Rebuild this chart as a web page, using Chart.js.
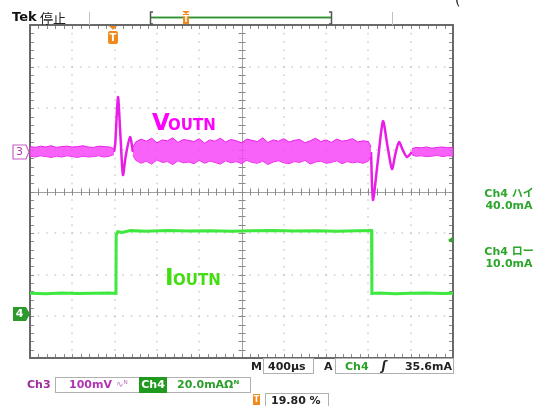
<!DOCTYPE html>
<html><head><meta charset="utf-8">
<script src="https://cdn.jsdelivr.net/npm/chart.js@4/dist/chart.umd.min.js"></script>
<style>html,body{margin:0;padding:0;background:#fff;}#wrap{position:relative;width:546px;height:406px;}</style>
</head><body><div id="wrap"><canvas id="c" width="546" height="406"></canvas></div>
<script>
// ---- time base (µs), 400 µs/div, 10 divisions ----
const timeMin = 0, timeMax = 4000;
// ---- Ch3 (VOUTN, mV) noise envelope, segment before the load step ----
const ch3TimeA = [0,50,100,150,200,250,300,350,400,450,500,550,600,650,700,750,794];
const ch3UpperA = [13,11,14,12,15,11,13,14,12,13,15,12,11,14,13,12,8];
const ch3LowerA = [-10,-12,-9,-11,-13,-10,-12,-9,-11,-13,-10,-12,-11,-9,-12,-10,-6];
// ---- Ch3 envelope during the high-load interval ----
const ch3TimeB = [974,1000,1050,1100,1150,1200,1250,1300,1350,1400,1450,1500,1550,1600,1650,1700,1750,1800,1850,1900,1950,2000,2050,2100,2150,2200,2250,2300,2350,2400,2450,2500,2550,2600,2650,2700,2750,2800,2850,2900,2950,3000,3050,3100,3150,3200,3225];
const ch3UpperB = [12,24,31,26,33,22,29,27,34,23,30,28,25,32,21,29,26,33,24,30,27,22,31,28,25,34,23,29,26,32,24,28,30,22,27,33,25,29,23,31,26,28,32,24,27,25,12];
const ch3LowerB = [-8,-20,-27,-22,-29,-19,-25,-23,-30,-21,-26,-24,-28,-20,-27,-22,-25,-29,-21,-26,-23,-28,-20,-25,-27,-22,-30,-24,-21,-26,-28,-23,-25,-20,-29,-24,-22,-27,-25,-21,-28,-23,-26,-24,-27,-22,-8];
// ---- Ch3 envelope after the load release ----
const ch3TimeC = [3612,3650,3700,3750,3800,3850,3900,3950,4000];
const ch3UpperC = [8,11,10,12,9,11,12,10,11];
const ch3LowerC = [-7,-10,-9,-11,-10,-8,-11,-9,-10];
// ---- Ch3 transient responses ----
const ch3Step1T = [794,806,832,855,879,905,946,974];
const ch3Step1V = [0,20,132,40,-55,-10,36,0];
const ch3Step2T = [3225,3243,3290,3338,3380,3423,3455,3489,3525,3565,3612];
const ch3Step2V = [0,-115,-20,74,15,-41,-5,24,5,-12,0];
// ---- Ch4 (IOUTN, mA) ----
const ch4T = [0,150,300,450,600,750,813,815,830,870,950,1100,1300,1500,1700,1900,2100,2300,2500,2700,2900,3100,3230,3233,3300,3450,3600,3750,3900,4000];
const ch4I = [10,9.8,10.1,9.9,10,10.1,9.9,38,39.6,39.2,40.1,39.8,40.2,39.9,40.1,39.8,40,40.2,39.9,40.1,39.8,40,40.1,9.9,10.1,9.8,10,10.1,9.9,10];
// ---- readouts ----
const triggerTimeUs = 785;
const triggerLevelMa = 35.6;
const ch3Range = {min:-494.9, max:305.1};   // 100 mV/div, 8 div
const ch4Range = {min:-21.1, max:138.9};    // 20 mA/div, 8 div

const MAG = '#e81ee8', GRN = '#3ee83e';
const pts = (t, v) => t.map((x, i) => ({x, y: v[i]}));

function band(t, up, lo) {
  return [
    {data: pts(t, up), yAxisID:'ch3', borderColor:MAG, borderWidth:1, pointRadius:0, fill:'+1', backgroundColor:'rgba(248,70,248,0.85)', tension:0},
    {data: pts(t, lo), yAxisID:'ch3', borderColor:MAG, borderWidth:1, pointRadius:0, fill:false, tension:0}
  ];
}

const graticule = {
  id:'graticule',
  beforeDatasetsDraw(chart){
    const ctx = chart.ctx, a = chart.chartArea;
    const dx = (a.right-a.left)/10, dy = (a.bottom-a.top)/8;
    ctx.save();
    ctx.fillStyle = '#b8b8b8';
    for (let i=1;i<10;i++){ if(i===5) continue; const x=a.left+i*dx;
      for (let k=1;k<40;k++){ ctx.fillRect(Math.round(x)-0.5, a.top+k*dy/5-0.5, 1, 1.6); } }
    for (let j=1;j<8;j++){ if(j===4) continue; const y=a.top+j*dy;
      for (let k=1;k<50;k++){ ctx.fillRect(a.left+k*dx/5-0.8, Math.round(y)-0.5, 1.6, 1); } }
    // centre cross
    const cx = a.left+5*dx, cy = a.top+4*dy;
    ctx.strokeStyle='#a0a0a0'; ctx.lineWidth=1;
    ctx.beginPath(); ctx.moveTo(a.left,Math.round(cy)+0.5); ctx.lineTo(a.right,Math.round(cy)+0.5);
    ctx.moveTo(Math.round(cx)+0.5,a.top); ctx.lineTo(Math.round(cx)+0.5,a.bottom); ctx.stroke();
    ctx.strokeStyle='#8a8a8a';
    ctx.beginPath();
    for (let k=1;k<50;k++){ const x=Math.round(a.left+k*dx/5)+0.5; ctx.moveTo(x,cy-3); ctx.lineTo(x,cy+4); }
    for (let k=1;k<40;k++){ const y=Math.round(a.top+k*dy/5)+0.5; ctx.moveTo(cx-3,y); ctx.lineTo(cx+4,y); }
    // border ticks
    for (let k=1;k<50;k++){ const x=Math.round(a.left+k*dx/5)+0.5; ctx.moveTo(x,a.top); ctx.lineTo(x,a.top+4); ctx.moveTo(x,a.bottom); ctx.lineTo(x,a.bottom-4); }
    for (let k=1;k<40;k++){ const y=Math.round(a.top+k*dy/5)+0.5; ctx.moveTo(a.left,y); ctx.lineTo(a.left+4,y); ctx.moveTo(a.right,y); ctx.lineTo(a.right-4,y); }
    ctx.stroke();
    ctx.strokeStyle='#6a6a6a'; ctx.lineWidth=2;
    ctx.strokeRect(a.left, a.top, a.right-a.left, a.bottom-a.top);
    ctx.restore();
  },
  afterDatasetsDraw(chart){
    const ctx = chart.ctx, a = chart.chartArea;
    const sx = chart.scales.x, s3 = chart.scales.ch3, s4 = chart.scales.ch4;
    const T = (s, x, y, font, color, align='left', base='middle') => { ctx.font=font; ctx.fillStyle=color; ctx.textAlign=align; ctx.textBaseline=base; ctx.fillText(s,x,y); };
    const F = 'DejaVu Sans, "Noto Sans CJK JP", sans-serif';
    ctx.save();
    // --- header ---
    T('Tek', 12, 18, 'bold 13px '+F, '#111');
    T('停止', 40, 18, '13px "Noto Sans CJK JP", sans-serif', '#222');
    T('(', 455, 1, '14px '+F, '#222');
    ctx.strokeStyle='#c0c0c0'; ctx.lineWidth=1; ctx.beginPath();
    ctx.moveTo(89.5,12); ctx.lineTo(89.5,25); ctx.moveTo(392.5,12); ctx.lineTo(392.5,25); ctx.stroke();
    ctx.strokeStyle='#9ed49e'; ctx.lineWidth=3; ctx.beginPath(); ctx.moveTo(151,17.5); ctx.lineTo(331,17.5); ctx.stroke();
    ctx.strokeStyle='#3a8a3a'; ctx.lineWidth=1; ctx.beginPath(); ctx.moveTo(151,17.5); ctx.lineTo(331,17.5); ctx.stroke();
    ctx.strokeStyle='#555'; ctx.lineWidth=1.5; ctx.beginPath();
    ctx.moveTo(153,12); ctx.lineTo(150.5,12); ctx.lineTo(150.5,24); ctx.lineTo(153,24);
    ctx.moveTo(329,12); ctx.lineTo(331.5,12); ctx.lineTo(331.5,24); ctx.lineTo(329,24); ctx.stroke();
    const orange='#f08a1c';
    ctx.fillStyle=orange;
    ctx.beginPath(); ctx.moveTo(182,11); ctx.lineTo(190,11); ctx.lineTo(186,14); ctx.closePath(); ctx.fill();
    ctx.fillRect(183,14,6,10);
    T('T', 186, 19.5, 'bold 8px '+F, '#fff', 'center');
    // trigger position marker
    const tx = sx.getPixelForValue(triggerTimeUs);
    ctx.fillStyle=orange;
    ctx.beginPath(); ctx.moveTo(tx-4,a.top+1); ctx.lineTo(tx+4,a.top+1); ctx.lineTo(tx,a.top+5); ctx.closePath(); ctx.fill();
    ctx.beginPath(); ctx.roundRect(tx-5, a.top+6, 10, 13, 2); ctx.fill();
    T('T', tx, a.top+13, 'bold 10px '+F, '#fff', 'center');
    // trigger level marker
    const ly = s4.getPixelForValue(triggerLevelMa);
    ctx.fillStyle='#2aa82a';
    ctx.beginPath(); ctx.moveTo(a.right-5,ly); ctx.lineTo(a.right,ly-3.5); ctx.lineTo(a.right,ly+3.5); ctx.closePath(); ctx.fill();
    // channel ground markers
    const g3 = s3.getPixelForValue(0), g4 = s4.getPixelForValue(0);
    ctx.beginPath(); ctx.moveTo(13,g3-7); ctx.lineTo(26,g3-7); ctx.lineTo(29,g3); ctx.lineTo(26,g3+7); ctx.lineTo(13,g3+7); ctx.closePath();
    ctx.fillStyle='#fff'; ctx.fill(); ctx.strokeStyle='#c860c8'; ctx.lineWidth=1.2; ctx.stroke();
    T('3', 19.5, g3+0.5, '11px '+F, '#b040b0', 'center');
    ctx.beginPath(); ctx.moveTo(13,g4-7); ctx.lineTo(26,g4-7); ctx.lineTo(30,g4); ctx.lineTo(26,g4+7); ctx.lineTo(13,g4+7); ctx.closePath();
    ctx.fillStyle='#2c9a2c'; ctx.fill();
    T('4', 19.5, g4+0.5, 'bold 11px '+F, '#fff', 'center');
    // trace labels
    T('V', 152, 130, 'bold 23px '+F, '#ff00ff', 'left', 'alphabetic');
    T('OUTN', 168, 130, 'bold 15px '+F, '#ff00ff', 'left', 'alphabetic');
    T('I', 165, 285, 'bold 23px '+F, '#44dd11', 'left', 'alphabetic');
    T('OUTN', 173, 285, 'bold 15px '+F, '#44dd11', 'left', 'alphabetic');
    // right readouts
    const RG='#2ea62e';
    T('Ch4 ハイ', 509, 194, 'bold 11px '+F, RG, 'center');
    T('40.0mA', 509, 206, 'bold 11px '+F, RG, 'center');
    T('Ch4 ロー', 509, 252, 'bold 11px '+F, RG, 'center');
    T('10.0mA', 509, 264, 'bold 11px '+F, RG, 'center');
    // bottom readouts
    ctx.strokeStyle='#b0b0b0'; ctx.lineWidth=1;
    ctx.strokeRect(263.5,358.5,50,15);
    ctx.strokeRect(335.5,358.5,118,15);
    T('M', 251, 367, 'bold 11px '+F, '#222');
    T('400µs', 268, 367, 'bold 11px '+F, '#222');
    T('A', 324, 367, 'bold 11px '+F, '#222');
    T('Ch4', 345, 367, 'bold 11px '+F, '#2aa02a');
    T('ʃ', 384, 367, 'bold italic 12px '+F, '#222', 'center');
    T('35.6mA', 452, 367, 'bold 11px '+F, '#222', 'right');
    ctx.strokeRect(55.5,377.5,195,15);
    T('Ch3', 27, 385, 'bold 11px '+F, '#a02aa0');
    T('100mV', 69, 385, 'bold 11px '+F, '#b035b0');
    T('∿ᴺ', 116, 385, '9px '+F, '#c070c0');
    ctx.fillStyle='#1f9a1f'; ctx.fillRect(139,377,28,16);
    T('Ch4', 153, 385, 'bold 11px '+F, '#fff', 'center');
    T('20.0mAΩᴺ', 177, 385, 'bold 11px '+F, '#2a9e2a');
    ctx.fillStyle=orange; ctx.fillRect(253,394,7,11);
    T('T', 256.5, 400, 'bold 8px '+F, '#fff', 'center');
    ctx.strokeStyle='#b0b0b0'; ctx.strokeRect(265.5,393.5,63,16);
    T('19.80 %', 271, 401, 'bold 11px '+F, '#222');
    ctx.restore();
  }
};

new Chart(document.getElementById('c'), {
  type:'line',
  data:{ datasets:[
    ...band(ch3TimeA, ch3UpperA, ch3LowerA),
    ...band(ch3TimeB, ch3UpperB, ch3LowerB),
    ...band(ch3TimeC, ch3UpperC, ch3LowerC),
    {data: pts(ch3Step1T, ch3Step1V), yAxisID:'ch3', borderColor:MAG, borderWidth:2.5, pointRadius:0, fill:false, tension:0.25},
    {data: pts(ch3Step2T, ch3Step2V), yAxisID:'ch3', borderColor:MAG, borderWidth:2.5, pointRadius:0, fill:false, tension:0.25},
    {data: pts(ch4T, ch4I), yAxisID:'ch4', borderColor:GRN, borderWidth:3, pointRadius:0, fill:false, tension:0}
  ]},
  options:{
    responsive:false, animation:false, devicePixelRatio:1,
    layout:{padding:{left:30, top:25, right:93, bottom:48}},
    plugins:{legend:{display:false}, tooltip:{enabled:false}},
    scales:{
      x:{type:'linear', min:timeMin, max:timeMax, display:false},
      ch3:{type:'linear', position:'left', min:ch3Range.min, max:ch3Range.max, display:false},
      ch4:{type:'linear', position:'right', min:ch4Range.min, max:ch4Range.max, display:false}
    }
  },
  plugins:[graticule]
});
</script></body></html>
